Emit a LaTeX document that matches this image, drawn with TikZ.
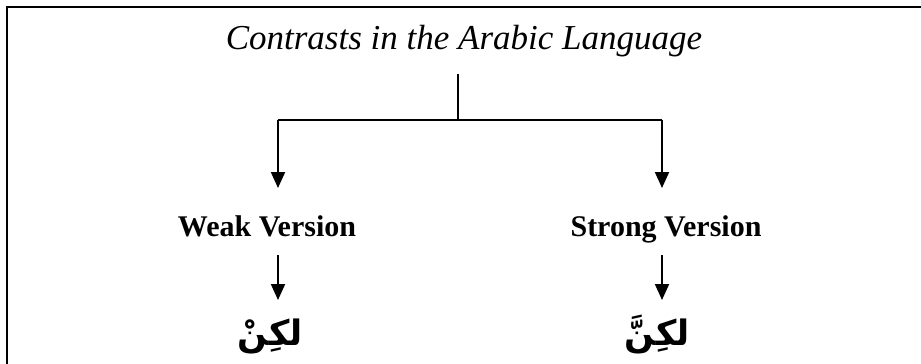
\documentclass[tikz,border=0pt]{standalone}
\usepackage{fontspec}
\setmainfont{Liberation Serif}
\newfontfamily\arabicfont[Script=Arabic]{DejaVu Sans}
\TeXXeTstate=1
\usetikzlibrary{arrows.meta}
\begin{document}
\begin{tikzpicture}[x=1pt,y=-1pt,
  frameline/.style={line width=2pt},
  link/.style={line width=2pt},
  arr/.style={line width=2pt,-{Triangle[width=14pt,length=16pt]}},
  titletext/.style={font=\fontsize{35}{40}\selectfont\itshape,anchor=base,inner sep=0pt},
  labeltext/.style={font=\fontsize{30}{34}\selectfont\bfseries,anchor=base,inner sep=0pt},
  wordtext/.style={font=\fontsize{35}{40}\selectfont\arabicfont\bfseries,anchor=base,inner sep=0pt}]
\useasboundingbox (0,0) rectangle (921,364);
% open frame: left and top edges only
\draw[frameline] (7,364) -- (7,7) -- (921,7);

% texts
\node[titletext] (title) at (464,49) {Contrasts in the Arabic Language};
\node[labeltext] (weak) at (267,236) {Weak Version};
\node[labeltext] (strong) at (666,236) {Strong Version};
\node[wordtext] (weakar) at (270,345) {\beginR لكِنْ\endR};
\node[wordtext] (strongar) at (657,345) {\beginR لكِنَّ\endR};

% branching points
\coordinate (stemtop) at (458,74);
\coordinate (split) at (458,120);
\coordinate (lturn) at (278,120);
\coordinate (rturn) at (662,120);
\coordinate (lend) at (278,188);
\coordinate (rend) at (662,188);
\coordinate (lstart2) at (278,255);
\coordinate (rstart2) at (662,255);
\coordinate (lend2) at (278,300);
\coordinate (rend2) at (662,300);

\draw[link] (stemtop) -- (split);
\draw[link] (lturn) -- (rturn);
\draw[arr] (lturn) -- (lend);
\draw[arr] (rturn) -- (rend);
\draw[arr] (lstart2) -- (lend2);
\draw[arr] (rstart2) -- (rend2);
\end{tikzpicture}
\end{document}
